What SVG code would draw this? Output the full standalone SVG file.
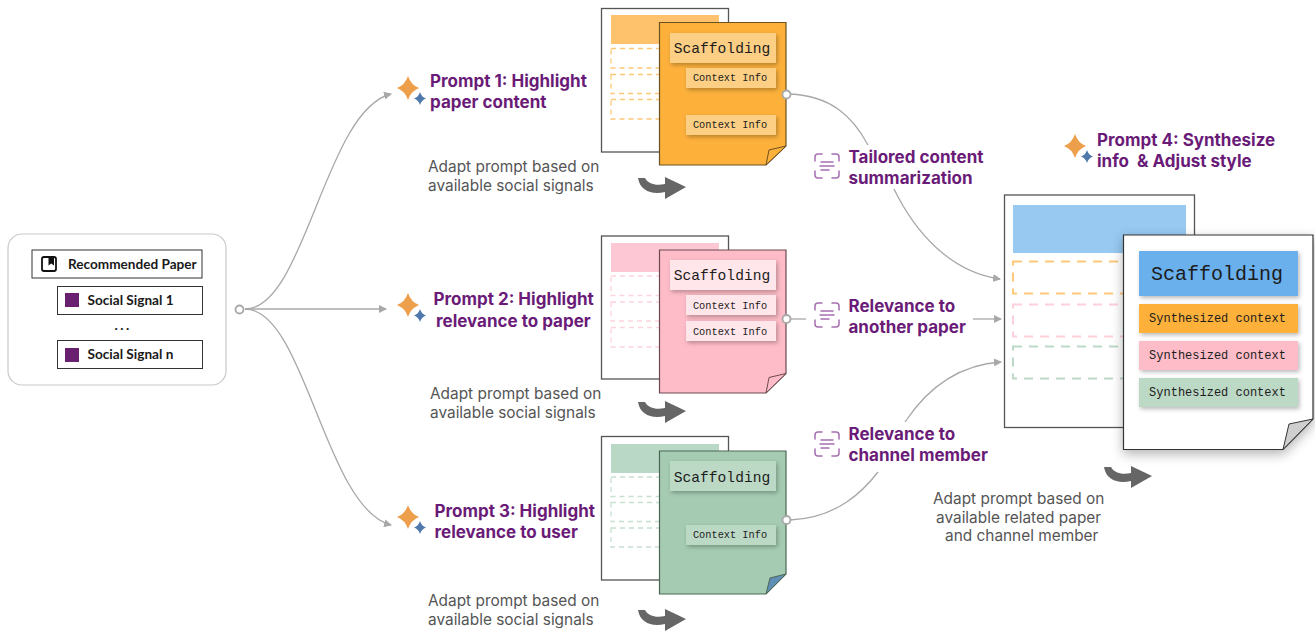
<svg xmlns="http://www.w3.org/2000/svg" width="1315" height="632" viewBox="0 0 1315 632">
<style>
.t{font-family:Inter,"Noto Sans",sans-serif;font-weight:700;font-size:17px;fill:#6a1b78}
.g{font-family:Inter,"Noto Sans",sans-serif;font-size:15.4px;fill:#555}
.b{font-family:Lato,"Noto Sans",sans-serif;font-weight:700;font-size:13.6px;fill:#1a1a1a}
.m{font-family:"Liberation Mono","DejaVu Sans Mono",monospace;fill:#1c1c1c}
.s{font-size:14.6px}.c{font-size:10.3px}.y{font-size:12px}
.back{fill:#fff;stroke:#555;stroke-width:1.3}
.conn{fill:none;stroke:#a8a8a8;stroke-width:1.3}
.dot{fill:#fff;stroke:#a8a8a8;stroke-width:1.8}
.box{fill:#fff;stroke:#333;stroke-width:1}
.dash{fill:none;stroke-width:1.3;stroke-dasharray:5 4}
.ico{fill:none;stroke:#a56fb0;stroke-width:1.5;stroke-linecap:round}
</style>
<defs>
<filter id="sh" x="-20%" y="-30%" width="140%" height="170%"><feDropShadow dx="1.5" dy="2" stdDeviation="2" flood-color="#000" flood-opacity="0.28"/></filter>
<filter id="sh2" x="-10%" y="-10%" width="125%" height="125%"><feDropShadow dx="0" dy="4" stdDeviation="6" flood-color="#000" flood-opacity="0.3"/></filter>
<marker id="ah" viewBox="0 0 8 8" refX="7" refY="4" markerWidth="8" markerHeight="8" markerUnits="userSpaceOnUse" orient="auto"><path d="M0 0L8 4L0 8Z" fill="#a8a8a8"/></marker>
<g id="spark"><path d="M11 0Q14 9 22 12Q14 15 11 24Q8 15 0 12Q8 9 11 0Z" fill="#ee9f4c"/><path d="M23 16Q24.500 21 29 22.500Q24.500 24 23 29Q21.500 24 17 22.500Q21.500 21 23 16Z" fill="#4f78ac"/></g>
<path id="arrow" d="M0 1L7 1C10 7 18 9 27 7L27 0L48 10L27 22L27 15C14 18 2 14 0 1Z" fill="#666"/>
<g id="sum" class="ico"><path d="M1 8V4Q1 1 4 1H8M18 1H22Q25 1 25 4V8M1 18V22Q1 25 4 25H8M18 25H22Q25 25 25 22V18M7 9H19M6 13H20M7 17H15"/></g>
</defs>

<g id="connectors">
<path class="conn" marker-end="url(#ah)" d="M245 309C305 309 325 110 391 94"/>
<path class="conn" marker-end="url(#ah)" d="M245 309H386"/>
<path class="conn" marker-end="url(#ah)" d="M245 309C305 309 325 508 391 525"/>
<path class="conn" d="M790 94C830 96 852 115 868 145"/>
<path class="conn" marker-end="url(#ah)" d="M894 189C915 232 950 272 1000 279"/>
<path class="conn" d="M790 319H806"/>
<path class="conn" marker-end="url(#ah)" d="M973 319H1001"/>
<path class="conn" d="M790 520C838 518 864 490 878 472"/>
<path class="conn" marker-end="url(#ah)" d="M905 422C925 392 955 365 1001 362"/>
</g>

<g id="input">
<rect x="8" y="234" width="218" height="151" rx="14" fill="#fff" stroke="#c9c9c9" stroke-width="1.2"/>
<rect class="box" x="32" y="250" width="170" height="28" stroke-width="1.2"/>
<rect x="42" y="257" width="14" height="14" rx="2" fill="none" stroke="#111" stroke-width="1.8"/>
<path d="M48.500 258H54V265.500L51.200 263.500L48.500 265.500Z" fill="#111"/>
<text class="b" x="68" y="269">Recommended Paper</text>
<rect class="box" x="57.500" y="286.500" width="145" height="28"/>
<rect x="65" y="293" width="14" height="14" fill="#68206f"/>
<text class="b" x="87.500" y="305">Social Signal 1</text>
<text class="b" x="114.500" y="330" style="letter-spacing:2.500px">...</text>
<rect class="box" x="57.500" y="340.500" width="145" height="28"/>
<rect x="65" y="348" width="14" height="14" fill="#68206f"/>
<text class="b" x="87.500" y="359">Social Signal n</text>
<circle class="dot" cx="239.500" cy="309.500" r="4"/>
</g>

<g id="prompt1"><use href="#spark" x="397" y="76"/>
<text class="t"><tspan x="430" y="86.500">Prompt 1: Highlight</tspan><tspan x="430" y="107.500">paper content</tspan></text>
<text class="g"><tspan x="428" y="172">Adapt prompt based on</tspan><tspan x="428" y="191">available social signals</tspan></text>
<use href="#arrow" x="638" y="177"/></g>

<g id="prompt2"><use href="#spark" x="397" y="293"/>
<text class="t"><tspan x="433.500" y="304.500">Prompt 2: Highlight</tspan><tspan x="436" y="326.500">relevance to paper</tspan></text>
<text class="g"><tspan x="430" y="399">Adapt prompt based on</tspan><tspan x="430" y="418">available social signals</tspan></text>
<use href="#arrow" x="638" y="401"/></g>

<g id="prompt3"><use href="#spark" x="397" y="505"/>
<text class="t"><tspan x="434.500" y="516.500">Prompt 3: Highlight</tspan><tspan x="434.500" y="537.500">relevance to user</tspan></text>
<text class="g"><tspan x="428" y="606">Adapt prompt based on</tspan><tspan x="428" y="625">available social signals</tspan></text>
<use href="#arrow" x="638" y="609"/></g>

<g id="doc1">
<rect class="back" x="601.500" y="8.500" width="127" height="143.500"/>
<rect x="611" y="15" width="108" height="29" fill="#fdc26b"/>
<g class="dash" stroke="#fdc878"><rect x="611" y="48.500" width="60" height="19.500"/><rect x="611" y="74.500" width="60" height="19"/><rect x="611" y="99.500" width="60" height="19.500"/></g>
<path d="M659.500 22.500H786V146L766 165H659.500Z" fill="#fdb13b" stroke="#6b5020" stroke-width="1.2"/>
<path d="M766 165L769 150L786 146Z" fill="#fdb13b" stroke="#6b5020" stroke-width="1"/>
<g filter="url(#sh)" fill="#fdcf84"><rect x="670" y="33" width="106" height="30"/><rect x="686" y="68" width="90" height="20"/><rect x="686" y="115" width="90" height="20"/></g>
<text class="m s" x="722" y="53" text-anchor="middle">Scaffolding</text>
<text class="m c" x="730" y="81" text-anchor="middle">Context Info</text>
<text class="m c" x="730" y="128" text-anchor="middle">Context Info</text>
<circle class="dot" cx="786.500" cy="94.500" r="4"/>
</g>

<g id="doc2">
<rect class="back" x="601.500" y="236" width="127" height="143"/>
<rect x="611" y="243" width="108" height="29" fill="#fdc8d3"/>
<g class="dash" stroke="#fdd3dc"><rect x="611" y="276" width="60" height="19.500"/><rect x="611" y="302" width="60" height="19"/><rect x="611" y="327.500" width="60" height="19.500"/></g>
<path d="M659.500 250H786V373.500L766 393H659.500Z" fill="#febcc8" stroke="#6a4a50" stroke-width="1.2"/>
<path d="M766 393L769 377.500L786 373.500Z" fill="#febcc8" stroke="#6a4a50" stroke-width="1"/>
<g filter="url(#sh)" fill="#ffe6ea"><rect x="670" y="260" width="106" height="30"/><rect x="686" y="295" width="90" height="20"/><rect x="686" y="321" width="90" height="20"/></g>
<text class="m s" x="722" y="280" text-anchor="middle">Scaffolding</text>
<text class="m c" x="730" y="308.500" text-anchor="middle">Context Info</text>
<text class="m c" x="730" y="334.500" text-anchor="middle">Context Info</text>
<circle class="dot" cx="786.500" cy="319" r="4"/>
</g>

<g id="doc3">
<rect class="back" x="601.500" y="436.500" width="127" height="143.500"/>
<rect x="611" y="444" width="108" height="29" fill="#b9d8c5"/>
<g class="dash" stroke="#c7e0d0"><rect x="611" y="477" width="60" height="19.500"/><rect x="611" y="502.500" width="60" height="19"/><rect x="611" y="528" width="60" height="19"/></g>
<path d="M659.500 451H786V574L766 594H659.500Z" fill="#a5ccb2" stroke="#4c6655" stroke-width="1.2"/>
<path d="M766 594L770 578L786 574Z" fill="#5f8fb4" stroke="#4c6655" stroke-width="1"/>
<g filter="url(#sh)" fill="#bcd9c6"><rect x="670" y="461" width="106" height="30"/><rect x="686" y="525" width="90" height="20"/></g>
<text class="m s" x="722" y="482" text-anchor="middle">Scaffolding</text>
<text class="m c" x="730" y="538" text-anchor="middle">Context Info</text>
<circle class="dot" cx="786.500" cy="520" r="4"/>
</g>

<g id="label1"><use href="#sum" x="814" y="153"/><text class="t"><tspan x="848.500" y="162.500">Tailored content</tspan><tspan x="848.500" y="183.500">summarization</tspan></text></g>
<g id="label2"><use href="#sum" x="814" y="302"/><text class="t"><tspan x="848.500" y="312">Relevance to</tspan><tspan x="848.500" y="332.500">another paper</tspan></text></g>
<g id="label3"><use href="#sum" x="814" y="431"/><text class="t"><tspan x="848.500" y="440">Relevance to</tspan><tspan x="848.500" y="460.500">channel member</tspan></text></g>

<g id="prompt4"><use href="#spark" x="1064" y="134"/>
<text class="t"><tspan x="1097" y="145.500">Prompt 4: Synthesize</tspan><tspan x="1097" y="166.500" xml:space="preserve">info  &amp; Adjust style</tspan></text>
<use href="#arrow" x="1104" y="466"/>
<text class="g"><tspan x="933" y="504">Adapt prompt based on</tspan><tspan x="936" y="523">available related paper</tspan><tspan x="945" y="541">and channel member</tspan></text></g>

<g id="doc4">
<rect class="back" x="1004.500" y="195" width="190" height="232.500" stroke="#333"/>
<rect x="1013" y="205" width="173" height="48" fill="#97c9f1"/>
<g fill="none" stroke-width="2" stroke-dasharray="9 7"><rect x="1013" y="261.500" width="130" height="32" stroke="#fdc878"/><rect x="1013" y="304.500" width="130" height="32" stroke="#fdd0da"/><rect x="1013" y="346.500" width="130" height="32" stroke="#bcd9c6"/></g>
<path d="M1123.500 235H1313V419L1283 449.500H1123.500Z" fill="#fff" stroke="#333" stroke-width="1.2" filter="url(#sh2)"/>
<path d="M1283 449.500L1289 424L1313 419Z" fill="#cfcfcf" stroke="#333" stroke-width="1"/>
<g filter="url(#sh)"><rect x="1139" y="251" width="159" height="45" fill="#6bb0ec"/><rect x="1139" y="304" width="159" height="29" fill="#fdb13b"/><rect x="1139" y="341" width="159" height="29" fill="#febcc8"/><rect x="1139" y="378" width="159" height="29" fill="#bcd9c6"/></g>
<text class="m" x="1217" y="280" font-size="20" text-anchor="middle">Scaffolding</text>
<text class="m y" x="1217.500" y="322" text-anchor="middle">Synthesized context</text>
<text class="m y" x="1217.500" y="359" text-anchor="middle">Synthesized context</text>
<text class="m y" x="1217.500" y="396" text-anchor="middle">Synthesized context</text>
</g>
</svg>
